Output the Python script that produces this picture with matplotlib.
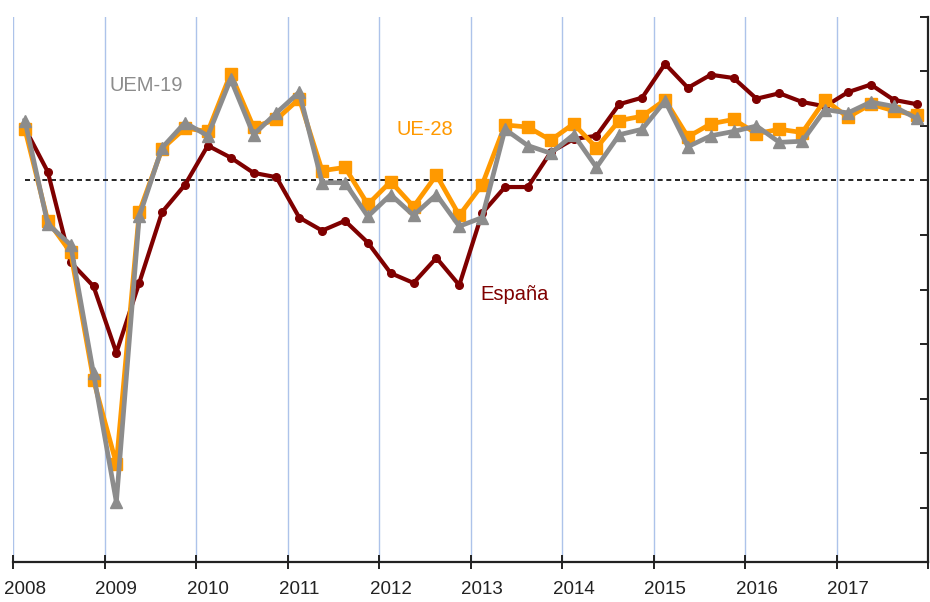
import numpy as np
import matplotlib
matplotlib.use('Agg')
import matplotlib.pyplot as plt

plt.rcParams['font.family'] = ['Liberation Sans', 'DejaVu Sans']

# --- datos: PIB, tasa intertrimestral (%), 2008T1 - 2017T4 ---
years = list(range(2008, 2018))

espana = [0.48, 0.08, -0.75, -0.97, -1.58, -0.94, -0.29, -0.04,
          0.32, 0.21, 0.07, 0.03, -0.34, -0.46, -0.37, -0.57,
          -0.85, -0.94, -0.71, -0.96, -0.30, -0.06, -0.06, 0.26,
          0.38, 0.41, 0.70, 0.76, 1.07, 0.85, 0.97, 0.94,
          0.75, 0.80, 0.72, 0.68, 0.81, 0.88, 0.74, 0.70]

ue28 = [0.47, -0.37, -0.66, -1.83, -2.60, -0.29, 0.29, 0.48,
        0.45, 0.98, 0.49, 0.56, 0.75, 0.09, 0.12, -0.22,
        -0.01, -0.24, 0.05, -0.32, -0.04, 0.51, 0.49, 0.37,
        0.52, 0.30, 0.55, 0.59, 0.74, 0.40, 0.52, 0.56,
        0.43, 0.47, 0.44, 0.74, 0.58, 0.70, 0.64, 0.60]

uem19 = [0.55, -0.40, -0.59, -1.77, -2.95, -0.33, 0.30, 0.53,
         0.41, 0.93, 0.42, 0.62, 0.81, -0.02, -0.02, -0.33,
         -0.13, -0.32, -0.13, -0.42, -0.34, 0.47, 0.32, 0.25,
         0.42, 0.12, 0.42, 0.47, 0.73, 0.31, 0.41, 0.45,
         0.50, 0.35, 0.36, 0.65, 0.62, 0.72, 0.68, 0.57]

# cada trimestre se dibuja en el centro de su cuarto de año
x = np.array([y + (q + 0.5) / 4 for y in years for q in range(4)])

C_ES = '#7f0000'
C_UE = '#ff9900'
C_UEM = '#8c8c8c'

fig = plt.figure(figsize=(9.3, 6.02), dpi=100)
ax = fig.add_axes([0.0145, 0.0664, 0.9833, 0.9054])

# rejilla vertical por año
for yr in years:
    ax.axvline(yr, color='#adc3ea', lw=1.0, zorder=0)

# línea de cero discontinua (del primer al último trimestre)
ax.plot([x[0], x[-1]], [0, 0], color='black', lw=1.2,
        dashes=(3, 2.2), zorder=1)

ax.plot(x, espana, color=C_ES, lw=3.0, marker='o', ms=5.5, zorder=2)
ax.plot(x, ue28, color=C_UE, lw=3.4, marker='s', ms=8, zorder=3)
ax.plot(x, uem19, color=C_UEM, lw=3.4, marker='^', ms=8.5, zorder=4)

ax.text(2009.45, 0.87, 'UEM-19', color=C_UEM, fontsize=14.5,
        ha='center', va='center')
ax.text(2012.5, 0.47, 'UE-28', color=C_UE, fontsize=14.5,
        ha='center', va='center')
ax.text(2013.48, -1.05, 'España', color=C_ES, fontsize=14.5,
        ha='center', va='center')

ax.set_xlim(2008, 2018)
ax.set_ylim(-3.5, 1.5)

# ejes: solo abajo y a la derecha
for s in ('left', 'top'):
    ax.spines[s].set_visible(False)
for s in ('bottom', 'right'):
    ax.spines[s].set_linewidth(1.6)
    ax.spines[s].set_color('#222222')

ax.set_xticks(years + [2018])
ax.set_xticklabels([])
ax.set_xticks([y + 0.125 for y in years], minor=True)
ax.set_xticklabels([str(y) for y in years], minor=True)
ax.tick_params(axis='x', which='major', direction='inout', length=10,
               width=1.4, color='#222222')
ax.tick_params(axis='x', which='minor', length=0, pad=14,
               labelsize=13.5, labelcolor='#222222')

ax.yaxis.tick_right()
ax.set_yticks(np.arange(-3.5, 1.51, 0.5))
ax.set_yticklabels([])
ax.tick_params(axis='y', direction='in', length=6, width=1.4,
               color='#222222')

fig.savefig('out.png', dpi=100)
